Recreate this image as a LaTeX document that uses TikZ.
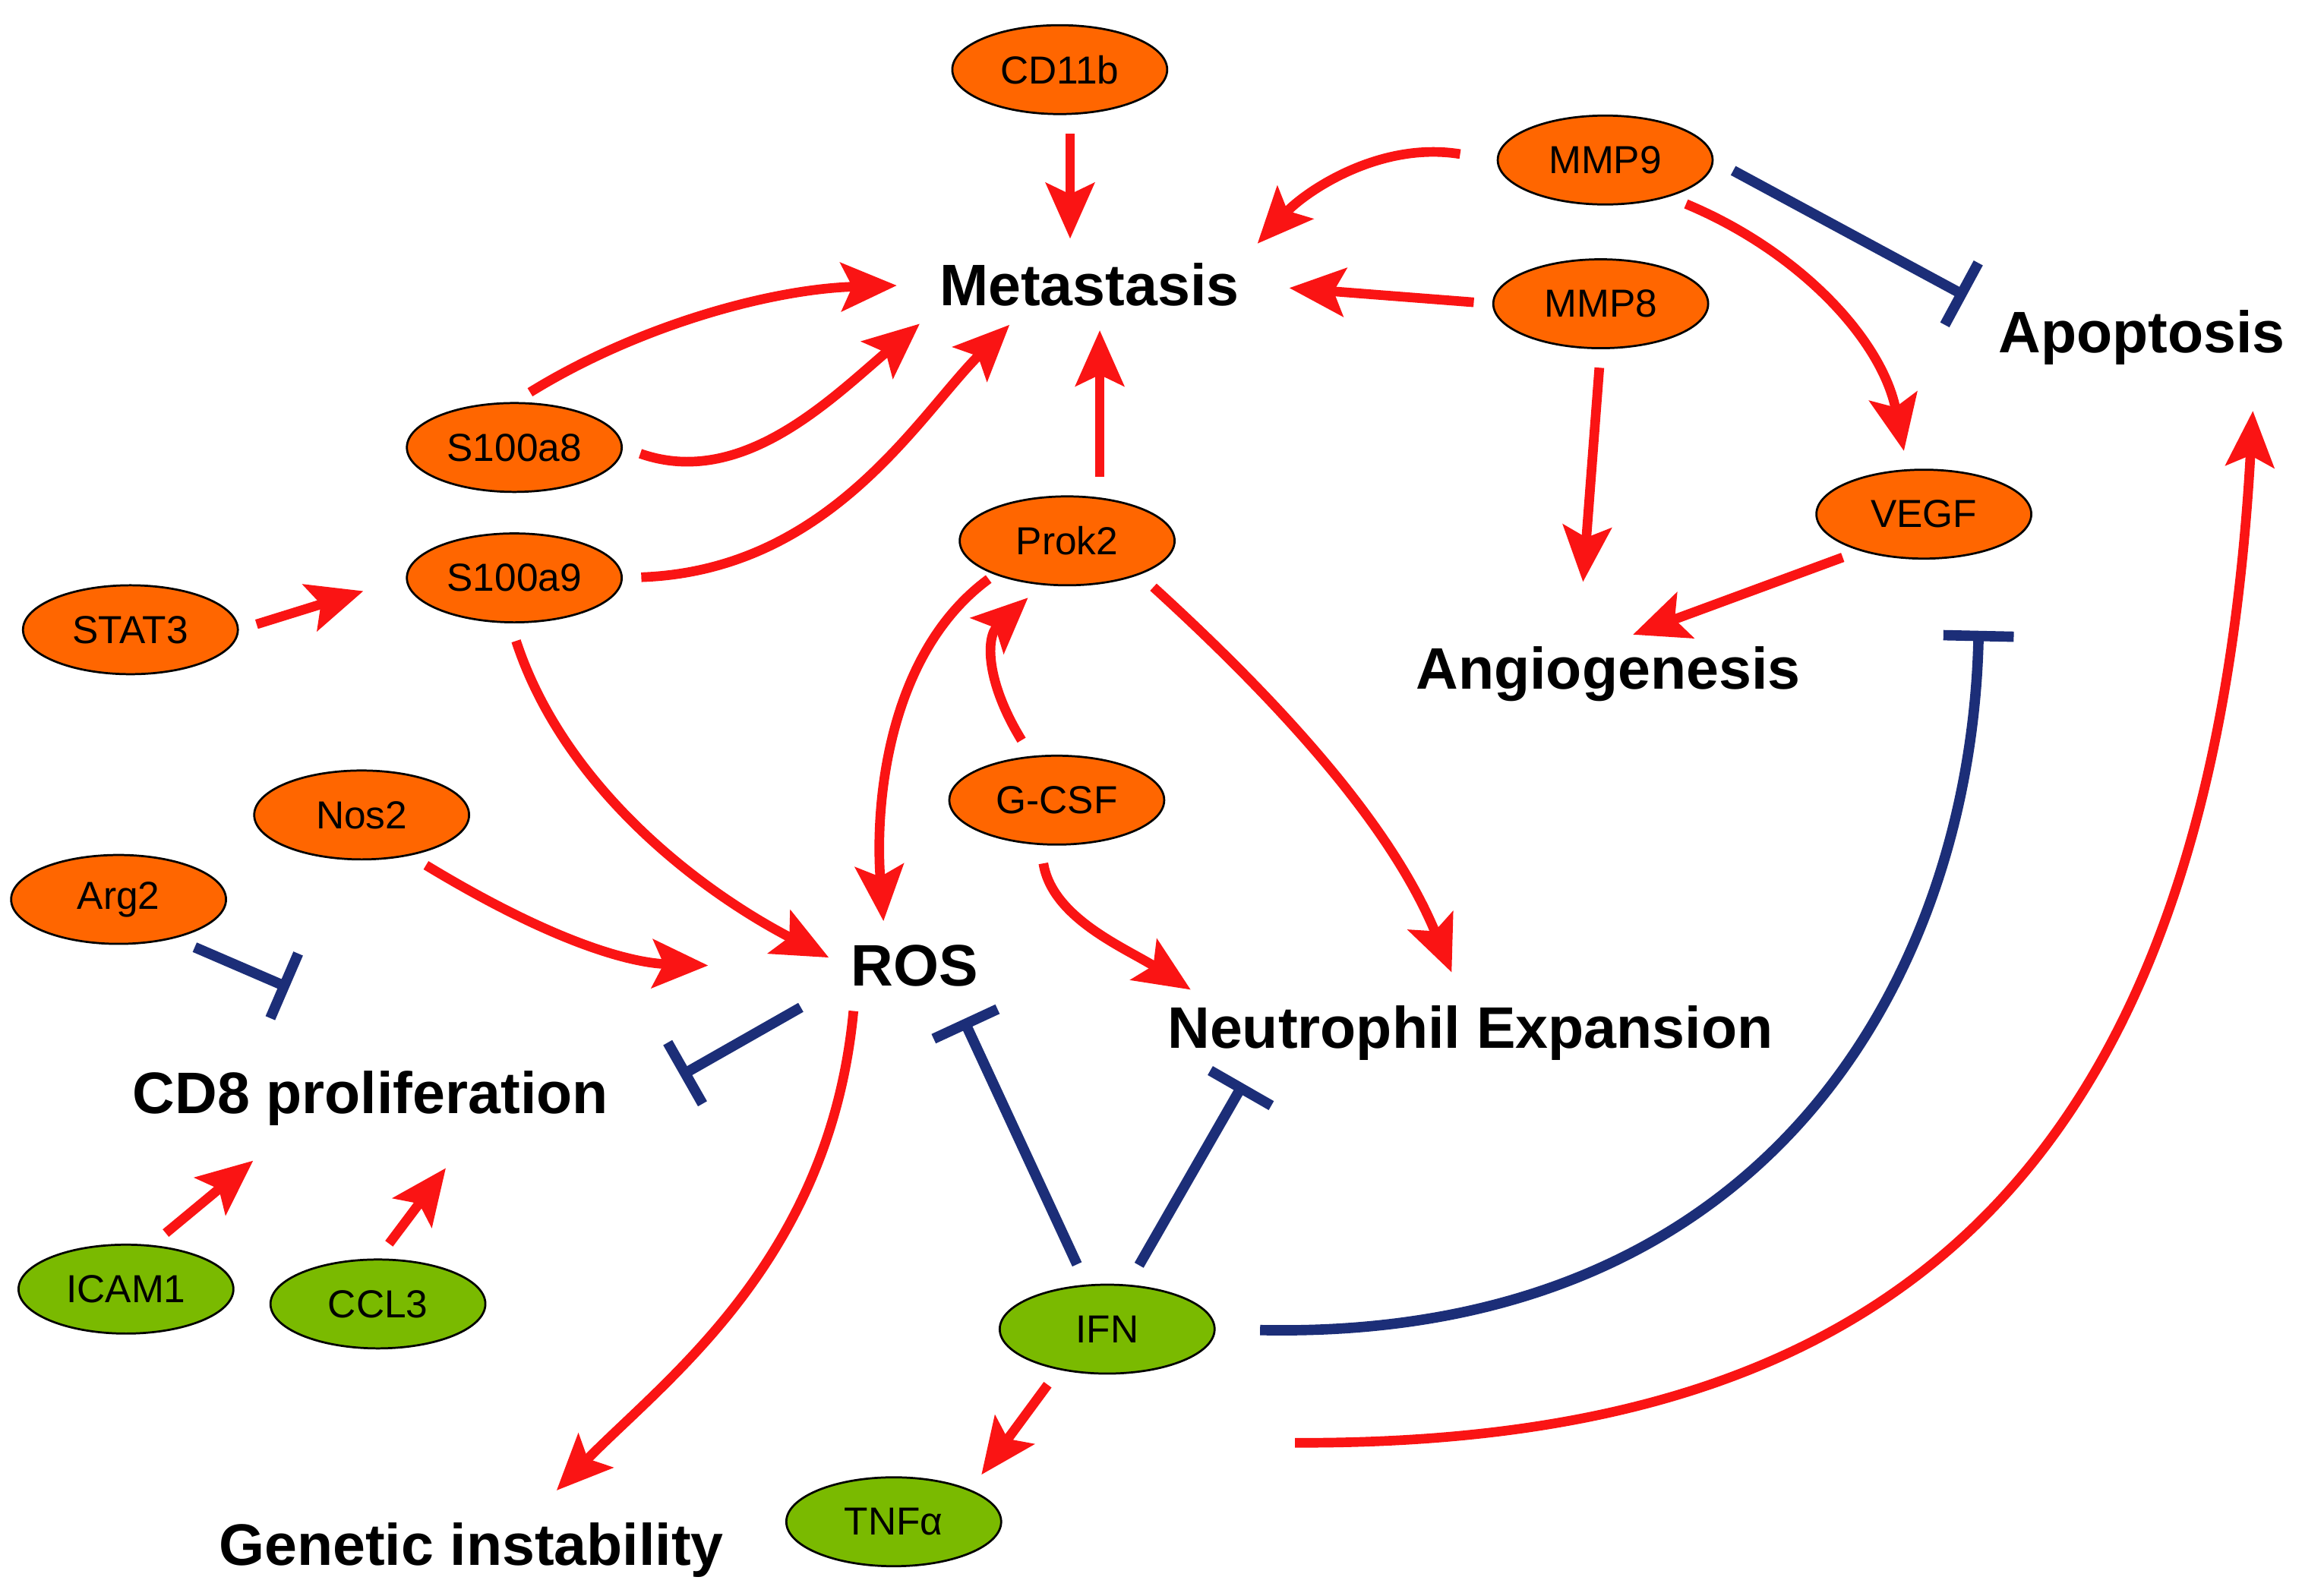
\documentclass[tikz,border=0pt]{standalone}
\usepackage{fontspec}
\setmainfont{Liberation Sans}
\usetikzlibrary{shapes.geometric,arrows.meta,calc}
\definecolor{orangeC}{RGB}{255,102,0}
\definecolor{greenC}{RGB}{122,186,0}
\definecolor{redC}{RGB}{250,20,20}
\definecolor{blueC}{RGB}{28,46,120}
\begin{document}
\begin{tikzpicture}[x=0.02cm,y=-0.02cm,
 ell/.style={ellipse, draw=black, line width=0.8pt, minimum width=2.9cm, minimum height=1.2cm, font=\fontsize{15}{15}\selectfont, inner sep=0pt},
 org/.style={ell, fill=orangeC},
 grn/.style={ell, fill=greenC},
 lab/.style={font=\bfseries\fontsize{22.5}{24}\selectfont, inner sep=2pt},
 ra/.style={draw=redC, line width=0.13cm, -{Stealth[length=0.75cm,width=0.65cm,inset=0.15cm]}, shorten <=0.25cm, shorten >=0.25cm},
 bb/.style={draw=blueC, line width=0.14cm, -{Bar[width=0.95cm]}}]
\useasboundingbox (0,0) rectangle (1568,1077);
% nodes
\node[org] (CD11b) at (715,47) {CD11b};
\node[org] (MMP9) at (1083,108) {MMP9};
\node[org] (MMP8) at (1080,205) {MMP8};
\node[org] (S8) at (347,302) {S100a8};
\node[org] (S9) at (347,390) {S100a9};
\node[org] (STAT3) at (88,425) {STAT3};
\node[org] (Prok2) at (720,365) {Prok2};
\node[org] (VEGF) at (1298,347) {VEGF};
\node[org] (GCSF) at (713,540) {G-CSF};
\node[org] (Nos2) at (244,550) {Nos2};
\node[org] (Arg2) at (80,607) {Arg2};
\node[grn] (ICAM1) at (85,870) {ICAM1};
\node[grn] (CCL3) at (255,880) {CCL3};
\node[grn] (IFN) at (747,897) {IFN};
\node[grn] (TNF) at (603,1027) {TNFα};
\node[lab] (Met) at (735,192) {Metastasis};
\node[lab] (Apo) at (1445,228) {Apoptosis};
\node[lab] (Ang) at (1085,455) {Angiogenesis};
\node[lab] (ROS) at (617,652) {ROS};
\node[lab] (Neu) at (992,697) {Neutrophil Expansion};
\node[lab] (CD8) at (250,741) {CD8 proliferation};
\node[lab] (Gen) at (318,1046) {Genetic instability};
% red arrows
\draw[ra] ($(CD11b.south)+(7,0)$) -- ($(Met.north)+(-13,0)$);
\draw[ra, shorten <=0.5cm] (MMP9.west) .. controls (930,95) and (880,130) .. (Met.north east);
\draw[ra, shorten >=0.6cm] (MMP8.west) -- (Met.east);
\draw[ra, shorten >=0.5cm] (S8.north) .. controls (430,220) and (520,195) .. (Met.west);
\draw[ra] (S8.east) .. controls (500,330) and (560,270) .. (Met.south west);
\draw[ra] (S9.east) .. controls (560,385) and (620,280) .. ($(Met.south)+(-45,0)$);
\draw[ra] ($(Prok2.north)+(22,0)$) -- ($(Met.south)+(7,0)$);
\draw[ra] (MMP9.-30) .. controls (1215,170) and (1270,230) .. (VEGF.110);
\draw[ra, shorten >=0.8cm] (MMP8.south) -- ($(Ang.north)+(-20,0)$);
\draw[ra] (VEGF.-150) -- ($(Ang.north)+(5,0)$);
\draw[ra, shorten >=0.6cm] (STAT3.east) -- (S9.west);
\draw[ra] (S9.-95) .. controls (380,530) and (470,600) .. (ROS.west);
\draw[ra, shorten <=0.1cm] (Prok2.205) .. controls (600,440) and (590,540) .. ($(ROS.north)+(-20,0)$);
\draw[ra] (GCSF.120) .. controls (665,460) and (665,430) .. (Prok2.-120);
\draw[ra, shorten >=0.4cm] (Prok2.-25) .. controls (870,480) and (940,560) .. ($(Neu.north)+(-5,0)$);
\draw[ra] (GCSF.-110) .. controls (710,620) and (760,640) .. ($(Neu.north west)+(30,0)$);
\draw[ra] (Nos2.-40) .. controls (380,640) and (430,650) .. ($(ROS.west)+(-80,0)$);
\draw[ra, shorten >=0pt] (ICAM1.60) -- ($(CD8.south west)+(85,20)$);
\draw[ra, shorten >=0pt] (CCL3.north) -- ($(CD8.south west)+(215,25)$);
\draw[ra, shorten >=0.5cm] ($(ROS.south)+(-40,0)$) .. controls (560,850) and (450,930) .. ($(Gen.north)+(40,0)$);
\draw[ra, shorten <=0pt, shorten >=0pt] ($(IFN.south east)+(75,55)$) .. controls (1250,975) and (1490,820) .. ($(Apo.south)+(75,27)$);
\draw[ra] (IFN.-140) -- (TNF.north east);
% blue inhibitions
\draw[bb, shorten <=0.3cm] (MMP9.east) -- ($(Apo.west)+(-18,-28)$);
\draw[bb, shorten <=0.3cm] (Arg2.-35) -- ($(CD8.north)+(-55,-52)$);
\draw[bb] ($(ROS.south west)+(-30,10)$) -- ($(CD8.east)+(45,-15)$);
\draw[bb, shorten <=0.3cm] (IFN.115) -- ($(ROS.south)+(33,18)$);
\draw[bb, shorten <=0.3cm] (IFN.65) -- ($(Neu.south west)+(55,12)$);
\draw[bb, shorten <=0.6cm] (IFN.east) .. controls (1200,905) and (1330,650) .. ($(VEGF.south)+(37,48)$);
\end{tikzpicture}
\end{document}
